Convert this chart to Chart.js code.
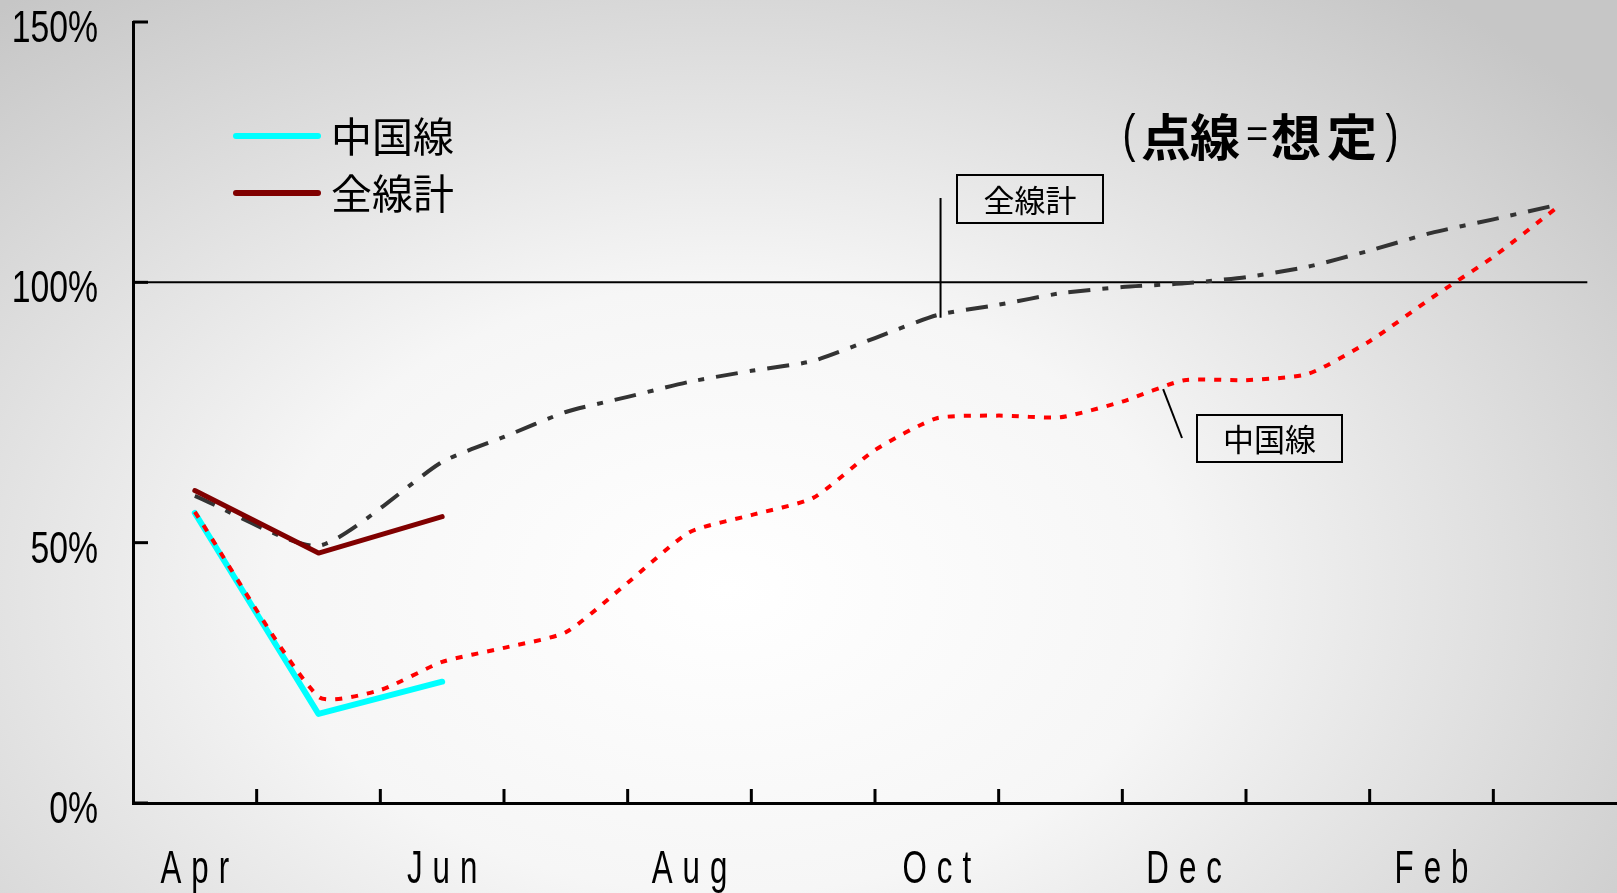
<!DOCTYPE html>
<html lang="ja">
<head>
<meta charset="UTF-8">
<title>中国線・全線計</title>
<script src="https://cdn.jsdelivr.net/npm/chart.js"></script>
<style>
  html, body { margin: 0; padding: 0; }
  body {
    width: 1617px; height: 893px; overflow: hidden;
    background: radial-gradient(ellipse 70% 85% at 45% 66%, #ffffff 0%, #f6f6f6 40%, #c6c6c6 100%);
  }
  canvas { display: block; }
</style>
</head>
<body>
<canvas id="chart" width="1617" height="893"></canvas>
<script>
// month positions: 0 = Apr, 11 = Mar
const monthLabels = ['Apr', 'May', 'Jun', 'Jul', 'Aug', 'Sep', 'Oct', 'Nov', 'Dec', 'Jan', 'Feb', 'Mar'];
const yTicks = [0, 50, 100, 150];

// actual results (solid)
const actualMonths = [0, 1, 2];
const chinaActual = [55.7, 17.1, 23.3];
const totalActual = [60.0, 48.0, 55.0];

// assumed (dotted), read every half month
const totalPlanMonths = [0, 1, 2, 2.5, 3, 3.5, 4, 4.5, 5, 5.5, 6, 6.5, 7, 7.5, 8, 8.5, 9, 9.5, 10, 10.5, 11];
const totalPlan = [59.0, 49.4, 65.5, 70.3, 75.1, 78.0, 80.9, 83.0, 84.9, 89.3, 93.7, 95.7, 97.9, 99.1, 99.8, 101.0, 103.0, 106.1, 109.5, 112.1, 114.8];
const chinaPlanMonths = [0, 1, 1.5, 2, 2.5, 3, 3.5, 4, 4.5, 5, 5.5, 6, 6.5, 7, 7.5, 8, 8.5, 9, 9.5, 10, 10.5, 11];
const chinaPlan = [55.9, 20.4, 21.7, 27.1, 29.8, 32.8, 42.3, 52.0, 55.3, 58.6, 67.8, 73.9, 74.4, 74.1, 77.1, 81.2, 81.2, 82.4, 88.7, 97.0, 104.9, 114.1];

const pts = (xs, ys) => xs.map((x, i) => ({ x: x, y: ys[i] }));

const CJK = '"Noto Sans CJK JP", "Noto Sans CJK SC", sans-serif';
const LATIN = '"Liberation Sans", Arial, sans-serif';

// draws a string letter by letter, squeezed horizontally, centred on cx
function spacedText(ctx, str, cx, base, font, sx, gap) {
  ctx.save();
  ctx.font = font;
  const chars = [...str];
  const w = chars.map(c => ctx.measureText(c).width * sx);
  const total = w.reduce((a, b) => a + b, 0) + gap * (chars.length - 1);
  let x = cx - total / 2;
  chars.forEach((c, i) => {
    ctx.save();
    ctx.translate(x, base);
    ctx.scale(sx, 1);
    ctx.fillText(c, 0, 0);
    ctx.restore();
    x += w[i] + gap;
  });
  ctx.restore();
}

function box(ctx, text, x, y, w, h) {
  ctx.save();
  ctx.strokeStyle = '#000';
  ctx.lineWidth = 2;
  ctx.strokeRect(x, y, w, h);
  ctx.fillStyle = '#000';
  ctx.font = '31px ' + CJK;
  ctx.textAlign = 'center';
  ctx.textBaseline = 'middle';
  ctx.fillText(text, x + w / 2, y + h / 2 + 1);
  ctx.restore();
}

function line(ctx, x1, y1, x2, y2, w) {
  ctx.save();
  ctx.strokeStyle = '#000';
  ctx.lineWidth = w;
  ctx.beginPath();
  ctx.moveTo(x1, y1);
  ctx.lineTo(x2, y2);
  ctx.stroke();
  ctx.restore();
}

const decorations = {
  id: 'decorations',
  beforeDatasetsDraw(chart) {
    const { ctx, scales: { x, y } } = chart;
    // 100% reference line
    line(ctx, x.left, y.getPixelForValue(100), x.getPixelForValue(11.26), y.getPixelForValue(100), 2);
  },
  afterDraw(chart) {
    const { ctx, chartArea, scales: { x, y } } = chart;

    // tick marks (pointing inside)
    for (let i = 0; i < monthLabels.length - 1; i++) {
      const px = x.getPixelForValue(i + 0.5);
      line(ctx, px, chartArea.bottom, px, chartArea.bottom - 14, 3);
    }
    yTicks.forEach(v => {
      const py = y.getPixelForValue(v);
      line(ctx, chartArea.left, py, chartArea.left + 15, py, 3);
    });

    // y labels
    ctx.save();
    ctx.fillStyle = '#000';
    ctx.font = '45px ' + LATIN;
    ctx.textAlign = 'right';
    yTicks.forEach(v => {
      ctx.save();
      ctx.translate(98, y.getPixelForValue(v) + 20);
      ctx.scale(0.75, 1);
      ctx.fillText(v + '%', 0, 0);
      ctx.restore();
    });
    ctx.restore();

    // x labels, every other month
    ctx.save();
    ctx.fillStyle = '#000';
    monthLabels.forEach((m, i) => {
      if (i % 2) return;
      spacedText(ctx, m, x.getPixelForValue(i), 883, '46px ' + LATIN, 0.68, 10);
    });
    ctx.restore();

    // legend (solid series only)
    ctx.save();
    [chart.data.datasets[0], chart.data.datasets[1]].forEach((ds, i) => {
      const ly = 136 + i * 57;
      ctx.strokeStyle = ds.borderColor;
      ctx.lineWidth = 6;
      ctx.lineCap = 'round';
      ctx.beginPath();
      ctx.moveTo(236, ly);
      ctx.lineTo(318, ly);
      ctx.stroke();
      ctx.fillStyle = '#000';
      ctx.font = '41px ' + CJK;
      ctx.textBaseline = 'middle';
      ctx.fillText(ds.label, 331, ly);
    });
    ctx.restore();

    // title, piece by piece
    ctx.save();
    ctx.fillStyle = '#000';
    ctx.textAlign = 'center';
    ctx.textBaseline = 'middle';
    const parts = [
      ['(', '52px ' + LATIN, 0.75, 1129],
      ['点', 'bold 50px ' + CJK, 1, 1166],
      ['線', 'bold 50px ' + CJK, 1, 1215],
      ['=', '38px ' + LATIN, 1, 1257],
      ['想', 'bold 50px ' + CJK, 1, 1296],
      ['定', 'bold 50px ' + CJK, 1, 1352],
      [')', '52px ' + LATIN, 0.75, 1392]
    ];
    parts.forEach(([t, f, sx, cx]) => {
      ctx.font = f;
      ctx.save();
      ctx.translate(cx, 137);
      ctx.scale(sx, 1);
      ctx.fillText(t, 0, 0);
      ctx.restore();
    });
    ctx.restore();

    // callouts
    box(ctx, '全線計', 957, 175, 146, 48);
    line(ctx, x.getPixelForValue(6.03), 198, x.getPixelForValue(6.03), y.getPixelForValue(93.2), 2);
    box(ctx, '中国線', 1197, 415, 145, 47);
    line(ctx, x.getPixelForValue(7.83), y.getPixelForValue(79.5), 1182, 438, 2);
  }
};

new Chart(document.getElementById('chart'), {
  type: 'line',
  data: {
    datasets: [
      {
        label: '中国線',
        data: pts(actualMonths, chinaActual),
        borderColor: '#00ffff',
        borderWidth: 6,
        borderCapStyle: 'round',
        borderJoinStyle: 'round',
        tension: 0,
        order: 4
      },
      {
        label: '全線計',
        data: pts(actualMonths, totalActual),
        borderColor: '#800000',
        borderWidth: 5,
        borderCapStyle: 'round',
        borderJoinStyle: 'round',
        tension: 0,
        order: 1
      },
      {
        label: '全線計(想定)',
        data: pts(totalPlanMonths, totalPlan),
        borderColor: '#333333',
        borderWidth: 4,
        borderDash: [22, 12, 6, 12],
        tension: 0.2,
        order: 2
      },
      {
        label: '中国線(想定)',
        data: pts(chinaPlanMonths, chinaPlan),
        borderColor: '#ff0000',
        borderWidth: 4,
        borderDash: [7, 9],
        tension: 0.2,
        order: 3
      }
    ]
  },
  options: {
    responsive: false,
    animation: false,
    layout: { padding: { left: 133, top: 22, right: 0, bottom: 90 } },
    elements: { point: { radius: 0 } },
    plugins: { legend: { display: false }, tooltip: { enabled: false } },
    scales: {
      x: {
        type: 'linear',
        min: -0.5,
        max: 11.5,
        grid: { display: false, drawTicks: false },
        border: { color: '#000', width: 3 },
        ticks: { display: false }
      },
      y: {
        min: 0,
        max: 150,
        grid: { display: false, drawTicks: false },
        border: { color: '#000', width: 3 },
        ticks: { display: false, stepSize: 50 }
      }
    }
  },
  plugins: [decorations]
});
</script>
</body>
</html>
